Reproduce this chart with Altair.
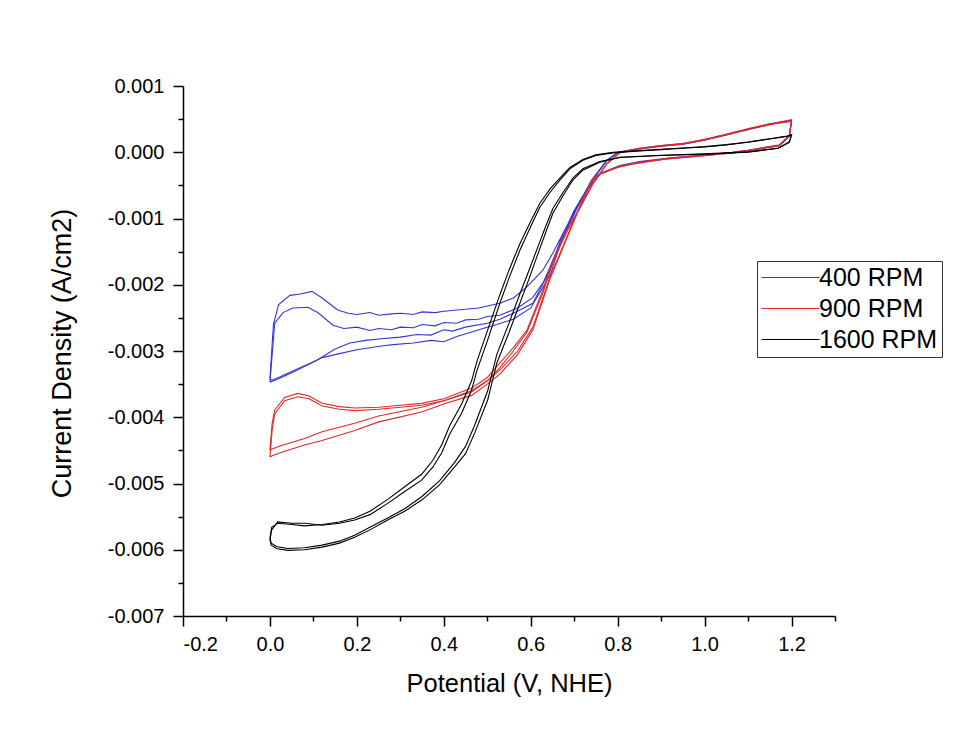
import altair as alt
import pandas as pd

# ---------------- data (current in mA/cm2, converted to A/cm2 below) ----------------
series_names = ["400 RPM", "900 RPM", "1600 RPM"]
series_colors = ["#3434d8", "#e02828", "#000000"]
series_widths = [1.1, 1.1, 1.6]

# 400 RPM, cycle A
b_a_up_v = [0.0, 0.008, 0.02, 0.046, 0.07, 0.097, 0.12, 0.156, 0.18, 0.2, 0.23, 0.25, 0.28, 0.3, 0.33, 0.35, 0.38, 0.4, 0.43, 0.45, 0.48, 0.5, 0.529, 0.56, 0.59, 0.628, 0.651, 0.68, 0.71, 0.74, 0.775, 0.8, 0.85, 0.9, 0.95, 1.0, 1.05, 1.1, 1.15, 1.2]
b_a_up_i = [-3.42, -2.6, -2.3, -2.16, -2.14, -2.1, -2.2, -2.38, -2.43, -2.45, -2.42, -2.46, -2.44, -2.43, -2.45, -2.41, -2.42, -2.4, -2.38, -2.37, -2.35, -2.32, -2.28, -2.2, -2.04, -1.78, -1.52, -1.15, -0.78, -0.42, -0.12, 0.0, 0.06, 0.1, 0.13, 0.19, 0.27, 0.35, 0.43, 0.48]
b_a_dn_v = [1.2, 1.195, 1.172, 1.1, 1.064, 1.0, 0.913, 0.85, 0.805, 0.76, 0.73, 0.7, 0.67, 0.644, 0.605, 0.56, 0.529, 0.5, 0.45, 0.42, 0.4, 0.37, 0.338, 0.3, 0.25, 0.22, 0.184, 0.15, 0.108, 0.06, 0.02, 0.005, 0.0]
b_a_dn_i = [0.48, 0.25, 0.11, 0.03, 0.0, -0.04, -0.09, -0.14, -0.2, -0.32, -0.55, -0.88, -1.3, -1.78, -2.28, -2.43, -2.52, -2.58, -2.64, -2.7, -2.68, -2.76, -2.75, -2.79, -2.82, -2.84, -2.88, -2.97, -3.14, -3.28, -3.4, -3.44, -3.42]

# 400 RPM, cycle B
b_b_up_v = [0.0, 0.011, 0.03, 0.053, 0.087, 0.11, 0.145, 0.17, 0.2, 0.23, 0.25, 0.28, 0.3, 0.33, 0.35, 0.38, 0.4, 0.43, 0.45, 0.48, 0.5, 0.529, 0.57, 0.605, 0.63, 0.651, 0.68, 0.71, 0.74, 0.775, 0.8, 0.85, 0.9, 0.95, 1.0, 1.05, 1.1, 1.15, 1.2]
b_b_up_i = [-3.47, -2.58, -2.42, -2.35, -2.34, -2.42, -2.61, -2.66, -2.64, -2.69, -2.66, -2.68, -2.64, -2.65, -2.6, -2.62, -2.57, -2.58, -2.53, -2.52, -2.48, -2.46, -2.35, -2.19, -1.95, -1.63, -1.2, -0.8, -0.44, -0.13, -0.01, 0.05, 0.09, 0.12, 0.18, 0.26, 0.34, 0.42, 0.47]
b_b_dn_v = [1.2, 1.195, 1.172, 1.1, 1.064, 1.0, 0.913, 0.85, 0.805, 0.76, 0.73, 0.7, 0.67, 0.645, 0.6, 0.56, 0.522, 0.49, 0.46, 0.43, 0.4, 0.37, 0.33, 0.29, 0.26, 0.2, 0.16, 0.12, 0.06, 0.02, 0.0]
b_b_dn_i = [0.47, 0.24, 0.1, 0.02, -0.01, -0.05, -0.1, -0.15, -0.21, -0.33, -0.56, -0.9, -1.34, -1.85, -2.35, -2.52, -2.6, -2.66, -2.72, -2.78, -2.86, -2.84, -2.88, -2.9, -2.92, -2.98, -3.04, -3.1, -3.3, -3.42, -3.47]

# 900 RPM, cycle A
r_a_up_v = [0.0, 0.005, 0.011, 0.034, 0.064, 0.09, 0.12, 0.16, 0.195, 0.25, 0.3, 0.349, 0.4, 0.464, 0.5, 0.529, 0.56, 0.591, 0.628, 0.651, 0.683, 0.713, 0.743, 0.775, 0.805, 0.85, 0.9, 0.95, 0.989, 1.05, 1.103, 1.166, 1.2]
r_a_up_i = [-4.5, -4.1, -3.89, -3.7, -3.64, -3.68, -3.79, -3.84, -3.86, -3.85, -3.82, -3.79, -3.72, -3.56, -3.4, -3.18, -2.95, -2.69, -2.08, -1.63, -1.18, -0.83, -0.47, -0.17, 0.0, 0.06, 0.1, 0.13, 0.18, 0.27, 0.36, 0.45, 0.49]
r_a_dn_v = [1.2, 1.195, 1.172, 1.1, 1.064, 0.989, 0.913, 0.834, 0.8, 0.759, 0.743, 0.72, 0.683, 0.644, 0.605, 0.57, 0.529, 0.5, 0.464, 0.4, 0.349, 0.25, 0.195, 0.12, 0.08, 0.03, 0.005, 0.0]
r_a_dn_i = [0.49, 0.25, 0.11, 0.03, 0.0, -0.05, -0.09, -0.17, -0.22, -0.32, -0.4, -0.7, -1.28, -1.89, -2.64, -3.0, -3.29, -3.45, -3.62, -3.75, -3.85, -3.98, -4.09, -4.22, -4.32, -4.42, -4.48, -4.5]

# 900 RPM, cycle B
r_b_up_v = [0.0, 0.005, 0.011, 0.034, 0.064, 0.09, 0.12, 0.16, 0.195, 0.25, 0.3, 0.349, 0.4, 0.464, 0.5, 0.529, 0.56, 0.591, 0.628, 0.651, 0.683, 0.713, 0.743, 0.775, 0.805, 0.85, 0.9, 0.95, 0.989, 1.05, 1.103, 1.166, 1.2]
r_b_up_i = [-4.6, -4.2, -3.95, -3.75, -3.69, -3.72, -3.83, -3.88, -3.9, -3.88, -3.85, -3.82, -3.75, -3.6, -3.45, -3.25, -3.0, -2.72, -2.12, -1.66, -1.2, -0.85, -0.48, -0.18, -0.01, 0.05, 0.09, 0.12, 0.17, 0.26, 0.35, 0.44, 0.47]
r_b_dn_v = [1.2, 1.195, 1.172, 1.1, 1.064, 0.989, 0.913, 0.834, 0.8, 0.759, 0.743, 0.72, 0.683, 0.644, 0.605, 0.57, 0.529, 0.5, 0.464, 0.4, 0.349, 0.25, 0.195, 0.12, 0.08, 0.03, 0.005, 0.0]
r_b_dn_i = [0.47, 0.24, 0.1, 0.02, -0.01, -0.06, -0.1, -0.18, -0.23, -0.33, -0.42, -0.72, -1.3, -1.92, -2.68, -3.05, -3.35, -3.5, -3.67, -3.8, -3.92, -4.07, -4.2, -4.35, -4.42, -4.52, -4.58, -4.6]

# 1600 RPM, cycles A and B
k_up_v = [0.0, 0.004, 0.018, 0.05, 0.08, 0.12, 0.16, 0.195, 0.23, 0.271, 0.31, 0.349, 0.375, 0.395, 0.414, 0.441, 0.464, 0.476, 0.5, 0.529, 0.55, 0.575, 0.6, 0.621, 0.645, 0.667, 0.69, 0.72, 0.75, 0.789, 0.85, 0.9, 0.95, 1.0, 1.05, 1.1, 1.15, 1.19, 1.2]
k_a_up_i = [-5.85, -5.7, -5.58, -5.6, -5.6, -5.63, -5.6, -5.55, -5.47, -5.3, -5.12, -4.95, -4.75, -4.54, -4.25, -3.94, -3.59, -3.3, -2.85, -2.28, -1.9, -1.48, -1.12, -0.83, -0.6, -0.42, -0.25, -0.12, -0.05, -0.01, 0.02, 0.04, 0.06, 0.08, 0.11, 0.15, 0.2, 0.24, 0.26]
k_b_up_i = [-5.82, -5.66, -5.6, -5.62, -5.64, -5.62, -5.58, -5.52, -5.42, -5.24, -5.05, -4.86, -4.65, -4.42, -4.12, -3.8, -3.45, -3.16, -2.7, -2.15, -1.78, -1.38, -1.04, -0.77, -0.55, -0.39, -0.23, -0.11, -0.04, 0.0, 0.025, 0.045, 0.065, 0.085, 0.115, 0.155, 0.205, 0.245, 0.265]
k_dn_v = [1.2, 1.195, 1.17, 1.1, 1.0, 0.9, 0.805, 0.759, 0.72, 0.697, 0.675, 0.651, 0.635, 0.614, 0.595, 0.575, 0.55, 0.522, 0.501, 0.471, 0.45, 0.425, 0.39, 0.349, 0.31, 0.271, 0.23, 0.195, 0.16, 0.12, 0.08, 0.041, 0.015, 0.003, 0.0]
k_a_dn_i = [0.26, 0.15, 0.06, 0.0, -0.03, -0.05, -0.08, -0.15, -0.27, -0.42, -0.65, -0.92, -1.2, -1.58, -1.93, -2.28, -2.72, -3.18, -3.74, -4.24, -4.55, -4.75, -5.02, -5.25, -5.42, -5.55, -5.7, -5.81, -5.9, -5.96, -6.0, -6.01, -5.98, -5.93, -5.85]
k_b_dn_i = [0.265, 0.16, 0.065, 0.005, -0.025, -0.045, -0.075, -0.14, -0.25, -0.39, -0.6, -0.85, -1.11, -1.47, -1.8, -2.14, -2.58, -3.05, -3.6, -4.12, -4.44, -4.68, -4.96, -5.2, -5.38, -5.52, -5.66, -5.78, -5.87, -5.93, -5.97, -5.98, -5.95, -5.9, -5.82]

x_major = [-0.2, 0.0, 0.2, 0.4, 0.6, 0.8, 1.0, 1.2]
x_minor = [-0.1, 0.1, 0.3, 0.5, 0.7, 0.9, 1.1, 1.3]
y_major = [0.001, 0.0, -0.001, -0.002, -0.003, -0.004, -0.005, -0.006, -0.007]
y_minor = [0.0005, -0.0005, -0.0015, -0.0025, -0.0035, -0.0045, -0.0055, -0.0065]

traces = [
    ("400 RPM", "A", b_a_up_v + b_a_dn_v, b_a_up_i + b_a_dn_i),
    ("400 RPM", "B", b_b_up_v + b_b_dn_v, b_b_up_i + b_b_dn_i),
    ("900 RPM", "A", r_a_up_v + r_a_dn_v, r_a_up_i + r_a_dn_i),
    ("900 RPM", "B", r_b_up_v + r_b_dn_v, r_b_up_i + r_b_dn_i),
    ("1600 RPM", "A", k_up_v + k_dn_v, k_a_up_i + k_a_dn_i),
    ("1600 RPM", "B", k_up_v + k_dn_v, k_b_up_i + k_b_dn_i),
]

rows = []
for name, cyc, vs, js in traces:
    for k, (v, j) in enumerate(zip(vs, js)):
        rows.append({"series": name, "cycle": name + cyc, "idx": k, "V": v, "J": j * 1e-3})
df = pd.DataFrame(rows)

FONT = "Liberation Sans"
x_scale = alt.Scale(domain=[-0.2, 1.3], nice=False, zero=False)
y_scale = alt.Scale(domain=[-0.007, 0.001], nice=False, zero=False)

x_label = "replace(format(datum.value, '.1f'), '\u2212', '-')"
y_label = "replace(format(datum.value, '.3f'), '\u2212', '-')"

main = alt.Chart(df).mark_line().encode(
    x=alt.X("V:Q", scale=x_scale,
            axis=alt.Axis(orient="bottom", values=x_major, labelExpr=x_label, title="Potential (V, NHE)",
                          grid=False, tickSize=10, tickWidth=1.5, tickColor="black",
                          domainColor="black", domainWidth=1.5,
                          labelFont=FONT, labelFontSize=20, labelColor="black", labelPadding=8,
                          titleFont=FONT, titleFontSize=25.5, titleFontWeight="normal", titleColor="black",
                          titleBaseline="alphabetic", titleY=75)),
    y=alt.Y("J:Q", scale=y_scale,
            axis=alt.Axis(orient="left", values=y_major, labelExpr=y_label, title="Current Density (A/cm2)",
                          grid=False, tickSize=10, tickWidth=1.5, tickColor="black",
                          domainColor="black", domainWidth=1.5,
                          labelFont=FONT, labelFontSize=20, labelColor="black", labelPadding=9,
                          titleFont=FONT, titleFontSize=27, titleFontWeight="normal", titleColor="black",
                          titleAngle=270, titleBaseline="alphabetic", titleAlign="center",
                          titleX=-113, titleY=267)),
    color=alt.Color("series:N", scale=alt.Scale(domain=series_names, range=series_colors),
                    legend=alt.Legend(title=None, orient="none", legendX=574, legendY=175,
                                      symbolType="M-3,0H3", symbolSize=374, symbolStrokeWidth=1.5,
                                      symbolOffset=17, labelOffset=16,
                                      labelFont=FONT, labelFontSize=25, labelColor="black",
                                      strokeColor="#333333", fillColor="white",
                                      padding=4, rowPadding=5)),
    strokeWidth=alt.StrokeWidth("series:N", scale=alt.Scale(domain=series_names, range=series_widths),
                                legend=None),
    detail="cycle:N",
    order="idx:Q",
)

minor = alt.Chart(df).mark_line(opacity=0).encode(
    x=alt.X("V:Q", scale=x_scale,
            axis=alt.Axis(orient="bottom", values=x_minor, labels=False, domain=False, grid=False,
                          tickSize=5, tickWidth=1.5, tickColor="black", title=None)),
    y=alt.Y("J:Q", scale=y_scale,
            axis=alt.Axis(orient="left", values=y_minor, labels=False, domain=False, grid=False,
                          tickSize=5, tickWidth=1.5, tickColor="black", title=None)),
    detail="cycle:N",
    order="idx:Q",
)

chart = alt.layer(main, minor).resolve_axis(x="independent", y="independent").properties(
    width=652, height=530,
    autosize=alt.AutoSizeParams(type="none"),
    padding={"left": 175, "top": 78, "right": 115, "bottom": 100},
    background="white",
).configure_view(stroke=None)

chart.save("out.html", embed_options={"renderer": "svg", "actions": False})
